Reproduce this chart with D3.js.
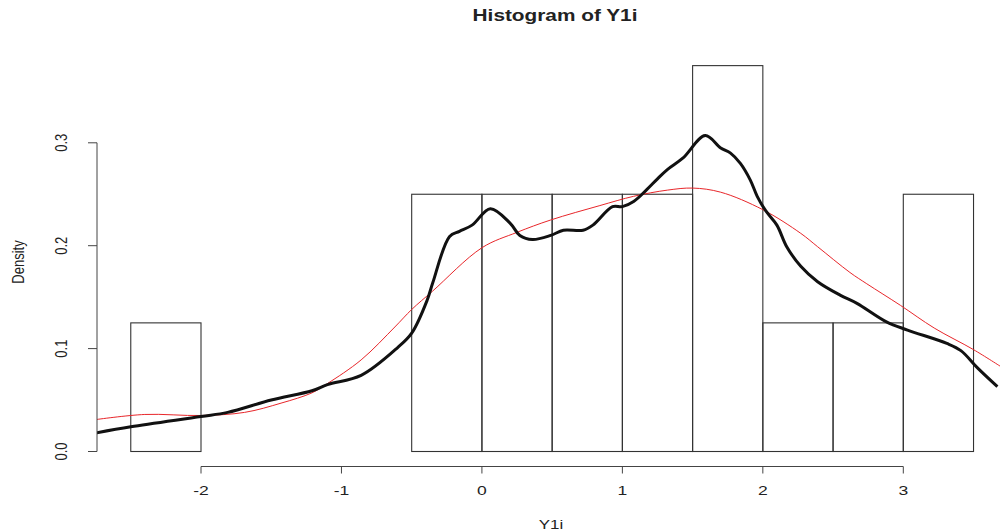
<!DOCTYPE html>
<html>
<head>
<meta charset="utf-8">
<script src="https://cdn.jsdelivr.net/npm/d3@7"></script>
<style>
  body { margin: 0; background: #fff; }
  text { font-family: "Liberation Sans", Arial, sans-serif; fill: #222; }
</style>
</head>
<body>
<svg id="chart" width="1000" height="532"></svg>
<script>
// histogram bins (width 0.5) and densities
var binStarts = [-2.5, -2, -1.5, -1, -0.5, 0, 0.5, 1, 1.5, 2, 2.5, 3];
var binWidth = 0.5;
var densities = [0.125, 0, 0, 0, 0.25, 0.25, 0.25, 0.25, 0.375, 0.125, 0.125, 0.25];

// kernel density (black, thick)
var kdeX = [-2.75, -2.5, -2.0, -1.81, -1.5, -1.21, -1.1, -0.86, -0.6, -0.5, -0.39, -0.35,
            -0.23, -0.16, -0.07, 0.06, 0.2, 0.27, 0.36, 0.49, 0.58, 0.72, 0.79, 0.93, 1.0,
            1.08, 1.17, 1.25, 1.32, 1.43, 1.59, 1.7, 1.77, 1.84, 1.91, 1.96, 2.02, 2.1,
            2.17, 2.27, 2.39, 2.55, 2.67, 2.88, 3.03, 3.31, 3.41, 3.53, 3.67];
var kdeY = [0.018, 0.024, 0.034, 0.038, 0.05, 0.059, 0.065, 0.074, 0.101, 0.115, 0.147, 0.164,
            0.209, 0.214, 0.22, 0.236, 0.222, 0.21, 0.206, 0.21, 0.215, 0.215, 0.22, 0.238, 0.238,
            0.243, 0.254, 0.265, 0.274, 0.285, 0.307, 0.295, 0.29, 0.28, 0.264, 0.248, 0.234, 0.22,
            0.199, 0.18, 0.165, 0.152, 0.144, 0.126, 0.118, 0.105, 0.098, 0.081, 0.063];

// smoother density (red, thin)
var smoothX = [-2.75, -2.4, -2.0, -1.69, -1.43, -1.21, -1.1, -0.86, -0.62, -0.5, -0.35, 0.0,
               0.25, 0.49, 0.84, 1.08, 1.32, 1.5, 1.7, 2.0, 2.27, 2.39, 2.62, 2.74, 2.98,
               3.22, 3.5, 3.7];
var smoothY = [0.031, 0.036, 0.035, 0.038, 0.047, 0.057, 0.066, 0.089, 0.121, 0.138, 0.156, 0.198,
               0.213, 0.225, 0.239, 0.248, 0.254, 0.256, 0.252, 0.235, 0.212, 0.199, 0.174, 0.163, 0.142,
               0.12, 0.099, 0.082];

var xTicks = [-2, -1, 0, 1, 2, 3];
var yTicks = [0, 0.1, 0.2, 0.3];
var yTickLabels = ["0.0", "0.1", "0.2", "0.3"];

var svg = d3.select("#chart");
var stretch = 1.3;   // the picture is wider than tall, text looks stretched

var x = d3.scaleLinear().domain([-2, 3]).range([201, 903.3]);
var y = d3.scaleLinear().domain([0, 0.3]).range([451.5, 142.8]);

svg.append("clipPath")
    .attr("id", "plotclip")
  .append("rect")
    .attr("x", 97)
    .attr("y", 30)
    .attr("width", 920)
    .attr("height", 450);

var plot = svg.append("g").attr("clip-path", "url(#plotclip)");

// bars
plot.selectAll("rect.bar")
    .data(binStarts)
    .enter()
    .append("rect")
    .attr("class", "bar")
    .attr("x", function(d) { return x(d); })
    .attr("width", function(d) { return x(d + binWidth) - x(d); })
    .attr("y", function(d, i) { return y(densities[i]); })
    .attr("height", function(d, i) { return y(0) - y(densities[i]); })
    .style("fill", "none")
    .style("stroke", "#333")
    .style("stroke-width", 1.1);

var kdeLine = d3.line()
    .x(function(d, i) { return x(kdeX[i]); })
    .y(function(d, i) { return y(kdeY[i]); })
    .curve(d3.curveCatmullRom);

var smoothLine = d3.line()
    .x(function(d, i) { return x(smoothX[i]); })
    .y(function(d, i) { return y(smoothY[i]); })
    .curve(d3.curveCatmullRom);

plot.append("path")
    .attr("d", smoothLine(smoothX))
    .style("fill", "none")
    .style("stroke", "#e8262a")
    .style("stroke-width", 1);

plot.append("path")
    .attr("d", kdeLine(kdeX))
    .style("fill", "none")
    .style("stroke", "#111")
    .style("stroke-width", 3)
    .style("stroke-linejoin", "round");

// bottom axis
var xAxisY = 466.5;
svg.append("line")
    .attr("x1", x(xTicks[0]))
    .attr("x2", x(xTicks[xTicks.length - 1]))
    .attr("y1", xAxisY)
    .attr("y2", xAxisY)
    .style("stroke", "#444");
svg.selectAll("xtick")
    .data(xTicks)
    .enter()
    .append("line")
    .attr("x1", function(d) { return x(d); })
    .attr("x2", function(d) { return x(d); })
    .attr("y1", xAxisY)
    .attr("y2", xAxisY + 7)
    .style("stroke", "#444");
svg.selectAll("xlabel")
    .data(xTicks)
    .enter()
    .append("text")
    .attr("transform", function(d) { return "translate(" + x(d) + ",495) scale(" + stretch + ",1)"; })
    .style("font-size", "13.5px")
    .style("text-anchor", "middle")
    .text(function(d) { return d; });

// left axis
var yAxisX = 97;
svg.append("line")
    .attr("x1", yAxisX)
    .attr("x2", yAxisX)
    .attr("y1", y(0))
    .attr("y2", y(0.3))
    .style("stroke", "#444");
svg.selectAll("ytick")
    .data(yTicks)
    .enter()
    .append("line")
    .attr("x1", yAxisX - 9)
    .attr("x2", yAxisX)
    .attr("y1", function(d) { return y(d); })
    .attr("y2", function(d) { return y(d); })
    .style("stroke", "#444");
svg.selectAll("ylabel")
    .data(yTicks)
    .enter()
    .append("text")
    .attr("transform", function(d) { return "translate(67," + y(d) + ") scale(" + stretch + ",1) rotate(-90)"; })
    .style("font-size", "13px")
    .style("text-anchor", "middle")
    .text(function(d, i) { return yTickLabels[i]; });

// titles
svg.append("text")
    .attr("transform", "translate(555,21) scale(" + stretch + ",1)")
    .style("font-size", "16px")
    .style("font-weight", "bold")
    .style("text-anchor", "middle")
    .text("Histogram of Y1i");

svg.append("text")
    .attr("transform", "translate(551,529) scale(" + stretch + ",1)")
    .style("font-size", "13px")
    .style("text-anchor", "middle")
    .text("Y1i");

svg.append("text")
    .attr("transform", "translate(24,262) scale(" + stretch + ",1) rotate(-90)")
    .style("font-size", "13px")
    .style("text-anchor", "middle")
    .text("Density");
</script>
</body>
</html>
